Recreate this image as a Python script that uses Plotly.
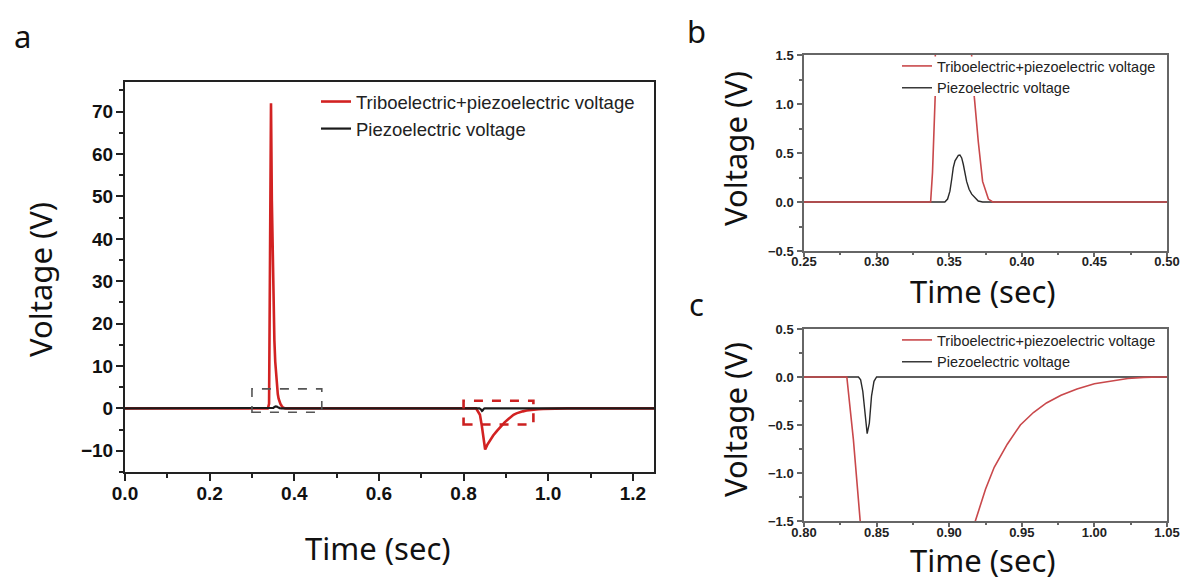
import plotly.graph_objects as go

# ---- data ----
t_tribo = [0.000, 0.3372, 0.3385, 0.3395, 0.3404, 0.3420, 0.3435, 0.3450, 0.3470, 0.3490,
           0.3510, 0.3530, 0.3550, 0.3570, 0.3590, 0.3610, 0.3630, 0.3650, 0.3673, 0.3700,
           0.3730, 0.3770, 0.3800, 0.8295, 0.8340, 0.8387, 0.8430, 0.8470, 0.8510, 0.8560,
           0.8620, 0.8700, 0.8790, 0.8880, 0.8970, 0.9060, 0.9120, 0.9180, 0.9250, 0.9310,
           0.9400, 0.9490, 0.9580, 0.9670, 0.9770, 0.9880, 1.0000, 1.0110, 1.0230, 1.0340,
           1.0450, 1.2500]
v_tribo = [0, 0, 0.3, 0.7, 1.1, 25, 55, 72, 49, 34,
           23, 16, 11, 7.5, 5.1, 3.4, 2.3, 1.6, 1.07, 0.62,
           0.21, 0.03, 0, 0, -0.65, -1.5, -4.0, -7.0, -9.7, -8.6,
           -7.6, -6.4, -5.3, -4.2, -3.3, -2.5, -2.0, -1.5, -1.17, -0.94,
           -0.70, -0.50, -0.37, -0.27, -0.19, -0.125, -0.07, -0.04, -0.015, -0.004,
           0, 0]

t_piezo = [0.000, 0.3470, 0.3489, 0.3505, 0.3518, 0.3528, 0.3540, 0.3551, 0.3563, 0.3574,
           0.3586, 0.3597, 0.3608, 0.3620, 0.3637, 0.3655, 0.3700, 0.3730, 0.8375, 0.8390,
           0.8405, 0.8412, 0.8426, 0.8435, 0.8450, 0.8465, 0.8482, 0.8500, 1.2500]
v_piezo = [0, 0, 0.03, 0.11, 0.24, 0.35, 0.42, 0.45, 0.475, 0.48,
           0.45, 0.385, 0.30, 0.21, 0.13, 0.08, 0.01, 0, 0, -0.03,
           -0.15, -0.24, -0.48, -0.59, -0.48, -0.2, -0.045, 0, 0]

name_tribo = "Triboelectric+piezoelectric voltage"
name_piezo = "Piezoelectric voltage"

ticks_a_x = [0.0, 0.2, 0.4, 0.6, 0.8, 1.0, 1.2]
ticks_a_y = [-10, 0, 10, 20, 30, 40, 50, 60, 70]
ticks_b_x = [0.25, 0.30, 0.35, 0.40, 0.45, 0.50]
ticks_b_y = [-0.5, 0.0, 0.5, 1.0, 1.5]
ticks_c_x = [0.80, 0.85, 0.90, 0.95, 1.00, 1.05]
ticks_c_y = [-1.5, -1.0, -0.5, 0.0, 0.5]

W, H = 1183, 580
RED_A = "#d22222"
RED_BC = "#c9484b"

fig = go.Figure()

# panel a
fig.add_trace(go.Scatter(x=t_tribo, y=v_tribo, mode="lines", name=name_tribo,
                         line=dict(color=RED_A, width=2.6), xaxis="x", yaxis="y",
                         legend="legend"))
fig.add_trace(go.Scatter(x=t_piezo, y=v_piezo, mode="lines", name=name_piezo,
                         line=dict(color="#1a1a1a", width=2.2), xaxis="x", yaxis="y",
                         legend="legend"))
# panels b, c
for xa, ya, lg in [("x2", "y2", "legend2"), ("x3", "y3", "legend3")]:
    fig.add_trace(go.Scatter(x=t_piezo, y=v_piezo, mode="lines", name=name_piezo,
                             line=dict(color="#2a2a2a", width=1.4),
                             xaxis=xa, yaxis=ya, legend=lg, legendrank=2))
    fig.add_trace(go.Scatter(x=t_tribo, y=v_tribo, mode="lines", name=name_tribo,
                             line=dict(color=RED_BC, width=1.6), xaxis=xa, yaxis=ya,
                             legend=lg, legendrank=1))

def px_x(a, b):
    return [a / W, b / W]

def px_y(top, bottom):
    return [1 - bottom / H, 1 - top / H]

tickfont_a = dict(family="Liberation Sans", size=19, color="#111111", weight="bold")
tickfont_bc = dict(family="Liberation Sans", size=13, color="#222222", weight="bold")

def axis(domain, rng, vals, fmt, anchor, font, lw, lcolor, tlen, mdt, mlen, standoff):
    return dict(domain=domain, range=rng, tickvals=vals, tickformat=fmt, anchor=anchor,
                automargin=False,
                showgrid=False, zeroline=False, showline=True, mirror=True,
                linecolor=lcolor, linewidth=lw, ticks="outside", ticklen=tlen,
                tickwidth=lw, tickcolor=lcolor, tickfont=font,
                ticklabelstandoff=standoff,
                minor=dict(dtick=mdt, ticks="outside", ticklen=mlen, tickwidth=lw,
                           tickcolor=lcolor, showgrid=False))

fig.update_layout(
    width=W, height=H, margin=dict(l=0, r=0, t=0, b=0, autoexpand=False),
    paper_bgcolor="white", plot_bgcolor="white",
    xaxis=axis(px_x(125, 654), [0, 1.25], ticks_a_x, ".1f", "y", tickfont_a, 2, "#222222", 7, 0.1, 4, -4),
    yaxis=axis(px_y(82, 472), [-15, 77], ticks_a_y, "d", "x", tickfont_a, 2, "#222222", 7, 5, 4, -1),
    xaxis2=axis(px_x(804, 1167), [0.25, 0.50], ticks_b_x, ".2f", "y2", tickfont_bc, 1.5, "#666666", 4, 0.025, 2, -6),
    yaxis2=axis(px_y(55, 251), [-0.5, 1.5], ticks_b_y, ".1f", "x2", tickfont_bc, 1.5, "#666666", 5, 0.25, 3, 1),
    xaxis3=axis(px_x(804, 1167), [0.80, 1.05], ticks_c_x, ".2f", "y3", tickfont_bc, 1.5, "#666666", 4, 0.025, 2, -5),
    yaxis3=axis(px_y(329, 521), [-1.5, 0.5], ticks_c_y, ".1f", "x3", tickfont_bc, 1.5, "#666666", 5, 0.25, 3, 1),
    legend=dict(x=316 / W, y=1 - 83 / H, xanchor="left", yanchor="top",
                bgcolor="rgba(255,255,255,0)", borderwidth=0,
                font=dict(family="Liberation Sans", size=18.5, color="#222222"),
                traceorder="normal"),
    legend2=dict(x=897 / W, y=1 - 50 / H, xanchor="left", yanchor="top",
                 bgcolor="rgba(255,255,255,0)", borderwidth=0,
                 font=dict(family="Liberation Sans", size=14.5, color="#222222")),
    legend3=dict(x=897 / W, y=1 - 324 / H, xanchor="left", yanchor="top",
                 bgcolor="rgba(255,255,255,0)", borderwidth=0,
                 font=dict(family="Liberation Sans", size=14.5, color="#222222")),
    showlegend=True,
)

# white legend backing inside panel b (hides the curves under the legend, as in the original)
fig.add_shape(type="rect", xref="paper", yref="paper",
              x0=897 / W, x1=1165.5 / W, y0=1 - 96 / H, y1=1 - 56.5 / H,
              fillcolor="white", line=dict(width=0), layer="above")

# dashed zoom boxes on panel a
fig.add_shape(type="rect", xref="x", yref="y", x0=0.30, x1=0.465, y0=-0.9, y1=4.6,
              line=dict(color="#555555", width=1.6, dash="dash"))
fig.add_shape(type="rect", xref="x", yref="y", x0=0.80, x1=0.965, y0=-3.8, y1=1.8,
              line=dict(color="#cc2020", width=2.6, dash="dash"))

title_font = dict(family="Noto Sans", size=31, color="#111111")
label_font = dict(family="Noto Sans", size=31, color="#111111")

def ann(text, x, y, font, angle=0):
    fig.add_annotation(text=text, x=x / W, y=1 - y / H, xref="paper", yref="paper",
                       showarrow=False, font=font, textangle=angle,
                       xanchor="center", yanchor="middle")

ann("a", 22, 36, label_font)
ann("b", 697, 31, label_font)
ann("c", 697, 304, label_font)
ann("Voltage (V)", 40, 280, title_font, -90)
ann("Time (sec)", 378, 548, title_font)
ann("Voltage (V)", 735, 149, title_font, -90)
ann("Time (sec)", 983, 291, title_font)
ann("Voltage (V)", 735, 420, title_font, -90)
ann("Time (sec)", 983, 560, title_font)

fig.write_html("out.html", config={"displayModeBar": False},
               post_script="document.body.style.margin='0';")
